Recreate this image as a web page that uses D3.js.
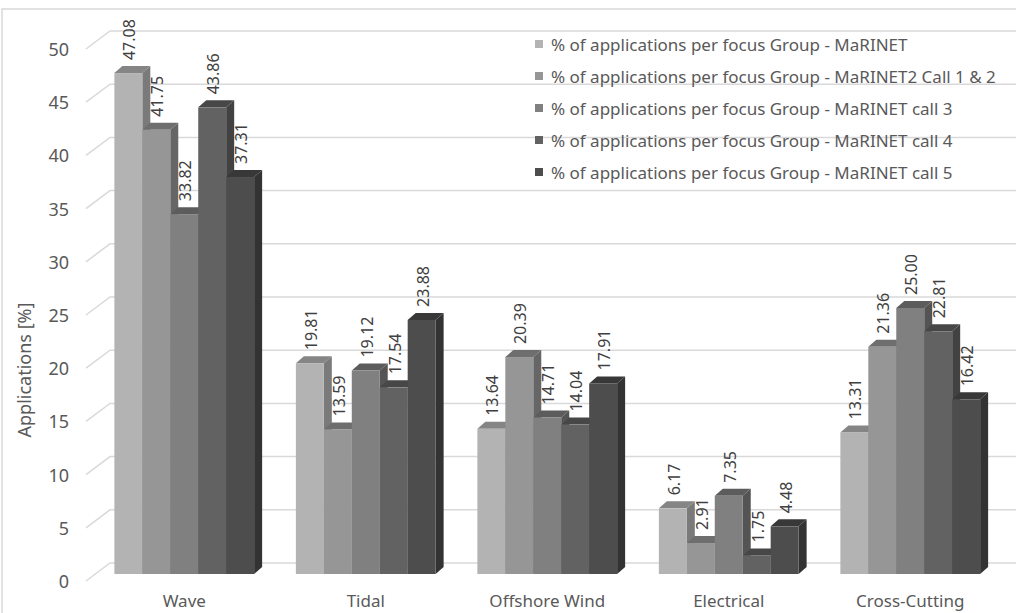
<!DOCTYPE html>
<html>
<head>
<meta charset="utf-8">
<script src="https://cdn.jsdelivr.net/npm/d3@7"></script>
<style>
  body { margin: 0; background: #fff; }
  svg { display: block; font-family: "Noto Sans", "Open Sans", sans-serif; }
</style>
</head>
<body>
<script>
// Focus groups and the share of applications per call (%)
const categories = ["Wave", "Tidal", "Offshore Wind", "Electrical", "Cross-Cutting"];
const seriesNames = [
  "% of applications per focus Group - MaRINET",
  "% of applications per focus Group - MaRINET2 Call 1 & 2",
  "% of applications per focus Group - MaRINET call 3",
  "% of applications per focus Group - MaRINET call 4",
  "% of applications per focus Group - MaRINET call 5"
];
const marinet      = [47.08, 19.81, 13.64, 6.17, 13.31];
const marinet2Call = [41.75, 13.59, 20.39, 2.91, 21.36];
const call3        = [33.82, 19.12, 14.71, 7.35, 25.00];
const call4        = [43.86, 17.54, 14.04, 1.75, 22.81];
const call5        = [37.31, 23.88, 17.91, 4.48, 16.42];
const yTicks = [0, 5, 10, 15, 20, 25, 30, 35, 40, 45, 50];
const yTitle = "Applications [%]";

const seriesValues = [marinet, marinet2Call, call3, call4, call5];

// Face shades for each series: front, top, right side
const shades = [
  { front: "#b3b3b3", top: "#858585", side: "#7a7a7a" },
  { front: "#969696", top: "#6e6e6e", side: "#666666" },
  { front: "#808080", top: "#5c5c5c", side: "#545454" },
  { front: "#626262", top: "#474747", side: "#424242" },
  { front: "#4d4d4d", top: "#383838", side: "#333333" }
];

const W = 1016, H = 613;
const depthX = 8, depthY = -7;       // oblique offset of the bar depth
const wallShift = -11;               // back wall sits above the bar base line
const textColor = "#595959";
const gridColor = "#d9d9d9";

const svg = d3.select("body").append("svg").attr("width", W).attr("height", H);

// Chart frame
svg.append("path")
  .attr("d", `M2,${H} V9 H${W}`)
  .attr("fill", "none").attr("stroke", gridColor).attr("stroke-width", 1.5);

const y = d3.scaleLinear().domain([0, 50]).range([574, 42]);
const x = d3.scaleBand().domain(categories).range([93.5, 1001])
  .paddingInner(0.23).paddingOuter(0.115);
const xs = d3.scaleBand().domain(d3.range(seriesValues.length)).range([0, x.bandwidth()]);

// Back wall gridlines with the floor edge running towards the axis labels
const grid = svg.append("g");
yTicks.forEach(t => {
  const yb = y(t) + wallShift;
  grid.append("path")
    .attr("d", `M86,${y(t) + 7} L110,${yb} H${W}`)
    .attr("fill", "none").attr("stroke", gridColor).attr("stroke-width", 1.5);
});

// Tick labels
svg.append("g").selectAll("text").data(yTicks).join("text")
  .attr("x", 69).attr("y", d => y(d) + 7)
  .attr("text-anchor", "end").attr("dominant-baseline", "central")
  .attr("font-size", 18).attr("fill", textColor)
  .text(d => d);

// Axis title
svg.append("text")
  .attr("transform", `translate(24,370) rotate(-90)`)
  .attr("text-anchor", "middle").attr("dominant-baseline", "central")
  .attr("font-size", 18).attr("fill", textColor)
  .text(yTitle);

// Category labels
svg.append("g").selectAll("text").data(categories).join("text")
  .attr("x", d => x(d) + x.bandwidth() / 2).attr("y", 600)
  .attr("text-anchor", "middle").attr("dominant-baseline", "central")
  .attr("font-size", 17).attr("fill", textColor)
  .text(d => d);

// 3D columns, drawn left to right so each bar hides its neighbour's side
const bars = [];
categories.forEach((c, ci) => {
  seriesValues.forEach((vals, si) => {
    bars.push({ cat: c, si, v: vals[ci] });
  });
});

const barG = svg.append("g");
bars.forEach(b => {
  const x0 = x(b.cat) + xs(b.si), x1 = x0 + xs.bandwidth();
  const yt = y(b.v), yb = y(0);
  const s = shades[b.si];
  const g = barG.append("g");
  g.append("path")
    .attr("d", `M${x1},${yb} L${x1 + depthX},${yb + depthY} L${x1 + depthX},${yt + depthY} L${x1},${yt} Z`)
    .attr("fill", s.side);
  g.append("path")
    .attr("d", `M${x0},${yt} L${x0 + depthX},${yt + depthY} L${x1 + depthX},${yt + depthY} L${x1},${yt} Z`)
    .attr("fill", s.top);
  g.append("rect")
    .attr("x", x0).attr("y", yt).attr("width", x1 - x0).attr("height", yb - yt)
    .attr("fill", s.front);
});

// Value labels above each column
svg.append("g").selectAll("text").data(bars).join("text")
  .attr("transform", d => {
    const cx = x(d.cat) + xs(d.si) + xs.bandwidth() / 2 + 1;
    return `translate(${cx},${y(d.v) + depthY - 6}) rotate(-90)`;
  })
  .attr("text-anchor", "start").attr("dominant-baseline", "central")
  .attr("font-size", 16).attr("fill", "#404040")
  .text(d => d.v.toFixed(2));

// Legend
const legend = svg.append("g").selectAll("g").data(seriesNames).join("g")
  .attr("transform", (d, i) => `translate(535,${44 + i * 32})`);
legend.append("rect")
  .attr("x", 0).attr("y", -4).attr("width", 8).attr("height", 8)
  .attr("fill", (d, i) => shades[i].front);
legend.append("text")
  .attr("x", 16).attr("y", 0).attr("dominant-baseline", "central")
  .attr("font-size", 17).attr("fill", textColor)
  .text(d => d);
</script>
</body>
</html>
